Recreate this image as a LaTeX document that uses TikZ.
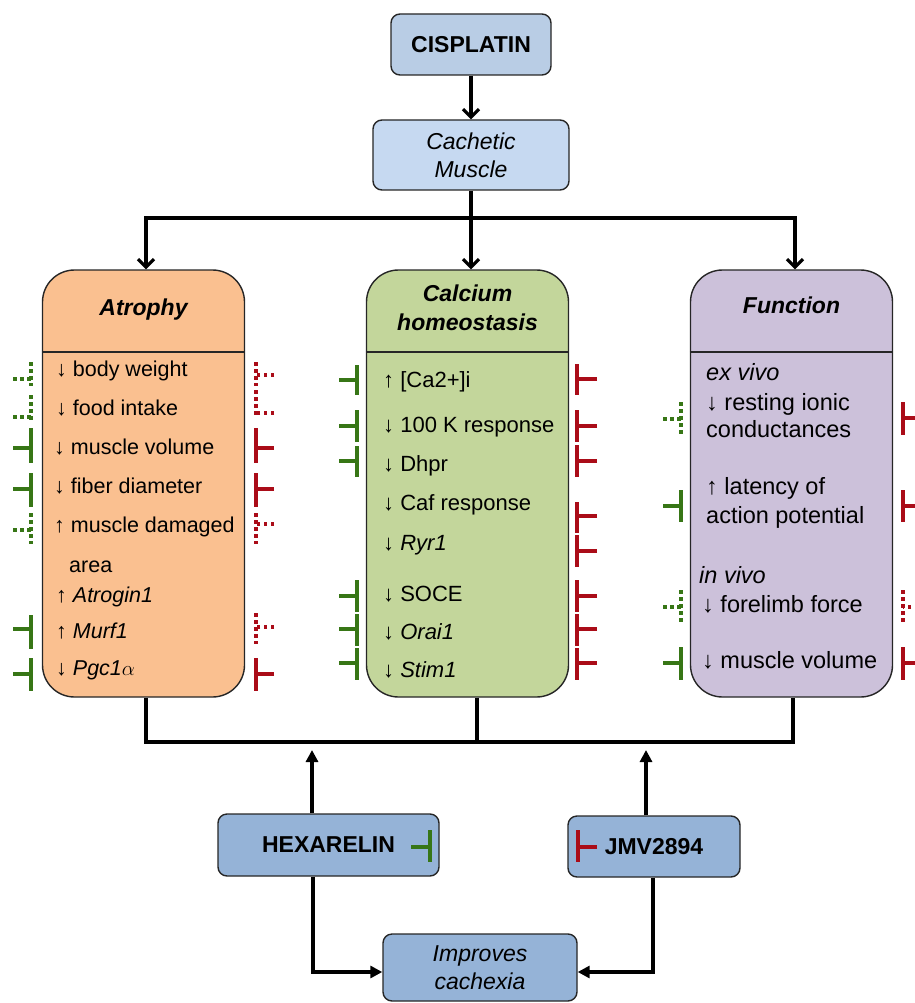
\documentclass[tikz,border=0pt]{standalone}
\usepackage{fontspec}
\setmainfont{Liberation Sans}
\usetikzlibrary{arrows.meta,calc}
\definecolor{cisb}{HTML}{B9CDE5}
\definecolor{cachb}{HTML}{C6D9F1}
\definecolor{drugb}{HTML}{95B3D7}
\definecolor{atrb}{HTML}{FAC090}
\definecolor{calb}{HTML}{C3D69B}
\definecolor{funb}{HTML}{CCC1DA}
\definecolor{ingrn}{RGB}{55,118,22}
\definecolor{inred}{RGB}{170,12,24}
\definecolor{edgec}{HTML}{262626}
\newcommand\mk[6]{\draw[#1] (#3,#6) -- (#2,#6) (#2,#4) -- (#2,#5);}
\begin{document}
\begin{tikzpicture}[x=1pt,y=-1pt,
 box/.style={draw=edgec,line width=1.4pt,rounded corners=9pt,align=center,inner sep=0pt},
 col/.style={draw=edgec,line width=1.4pt,rounded corners=32pt,minimum width=202pt,minimum height=427pt,inner sep=0pt},
 ttl/.style={font=\fontsize{23}{29}\selectfont\bfseries\itshape,align=center,inner sep=0pt},
 big/.style={font=\fontsize{23}{28}\selectfont\bfseries},
 itl/.style={font=\fontsize{23}{28}\selectfont\itshape},
 txa/.style={anchor=west,inner sep=0pt,font=\fontsize{21.5}{26}\selectfont,text height=15pt,text depth=4pt},
 txc/.style={txa,font=\fontsize{22}{26}\selectfont},
 txf/.style={txa,font=\fontsize{23.5}{28}\selectfont},
 conn/.style={line width=3.2pt},
 arrV/.style={conn,-{Straight Barb[length=8pt,width=16pt]}},
 arrT/.style={conn,-{Triangle[length=12pt,width=12pt]}},
 gsol/.style={draw=ingrn,line width=3.5pt},
 gdot/.style={gsol,dash pattern=on 3.5pt off 3.5pt},
 rsol/.style={draw=inred,line width=3.5pt},
 rdot/.style={rsol,dash pattern=on 3.5pt off 3.5pt}]
\useasboundingbox (0,0) rectangle (914,1003);

% top boxes
\node[box,fill=cisb,minimum width=160pt,minimum height=61pt,big] (cis) at (471,44.5) {CISPLATIN};
\node[box,fill=cachb,minimum width=196pt,minimum height=70pt,itl] (cach) at (471,155) {Cachetic\\Muscle};

% column boxes
\node[col,fill=atrb] (atr) at (143.5,483.5) {};
\node[col,fill=calb] (cal) at (467.5,483.5) {};
\node[col,fill=funb] (fun) at (791.5,483.5) {};
\draw[draw=edgec,line width=1.4pt] (atr.west |- 0,352) -- (atr.east |- 0,352);
\draw[draw=edgec,line width=1.4pt] (cal.west |- 0,352) -- (cal.east |- 0,352);
\draw[draw=edgec,line width=1.4pt] (fun.west |- 0,352) -- (fun.east |- 0,352);
\node[ttl] (atrT) at (143.5,310) {Atrophy};
\node[ttl] (calT) at (467.5,308) {Calcium\\homeostasis};
\node[ttl] (funT) at (791.5,305) {Function};

% top connectors
\coordinate (jl) at (146,218);
\coordinate (jc) at (471,218);
\coordinate (jr) at (795,218);
\draw[arrV] (cis.south) -- (cach.north);
\draw[arrV] (cach.south) -- (jc) -| (jl |- atr.north);
\draw[arrV] (jc) -| (jr |- fun.north);
\draw[arrV] (jc) -- (jc |- cal.north);

% atrophy texts
\node[txa] (a1) at (56,371) {↓ body weight};
\node[txa] (a2) at (56,410) {↓ food intake};
\node[txa] (a3) at (54,449) {↓ muscle volume};
\node[txa] (a4) at (54,488) {↓ fiber diameter};
\node[txa] (a5) at (54,527) {↑ muscle damaged};
\node[txa] (a6) at (69,567) {area};
\node[txa] (a7) at (56,597) {↑ \itshape Atrogin1};
\node[txa] (a8) at (56,633) {↑ \itshape Murf1};
\node[txa] (a9) at (56,670) {↓ \itshape Pgc1$\alpha$};

% calcium texts
\node[txc] (c1) at (383,382) {↑ [Ca2+]i};
\node[txc] (c2) at (383,427) {↓ 100 K response};
\node[txc] (c3) at (383,466) {↓ Dhpr};
\node[txc] (c4) at (383,505) {↓ Caf response};
\node[txc] (c5) at (383,545) {↓ \itshape Ryr1};
\node[txc] (c6) at (383,596) {↓ SOCE};
\node[txc] (c7) at (383,634) {↓ \itshape Orai1};
\node[txc] (c8) at (383,672) {↓ \itshape Stim1};

% function texts
\node[txf] (f1) at (706,375) {\itshape ex vivo};
\node[txf] (f2) at (706,405) {↓ resting ionic};
\node[txf] (f3) at (706,432) {conductances};
\node[txf] (f4) at (706,489) {↑ latency of};
\node[txf] (f5) at (706,518) {action potential};
\node[txf] (f6) at (699,578) {\itshape in vivo};
\node[txf] (f7) at (702,607) {↓ forelimb force};
\node[txf] (f8) at (702,663) {↓ muscle volume};

% atrophy markers
\mk{gdot}{31}{13}{362}{386}{379}
\mk{gdot}{31}{13}{395}{423}{417}
\mk{gsol}{31}{13}{428}{463}{448}
\mk{gsol}{31}{13}{473}{507}{489}
\mk{gdot}{31}{13}{513}{544}{530}
\mk{gsol}{31}{13}{615}{649}{629}
\mk{gsol}{31}{13}{658}{691}{674}
\mk{rdot}{256}{274}{362}{386}{375}
\mk{rdot}{256}{274}{390}{418}{413}
\mk{rsol}{256}{274}{428}{463}{448}
\mk{rsol}{256}{274}{473}{507}{489}
\mk{rdot}{256}{274}{513}{544}{524}
\mk{rdot}{256}{274}{613}{644}{627}
\mk{rsol}{256}{274}{658}{691}{674}

% calcium markers
\mk{gsol}{357}{339}{365}{395}{380}
\mk{gsol}{357}{339}{410}{442}{426}
\mk{gsol}{357}{339}{446}{477}{461}
\mk{gsol}{357}{339}{580}{612}{596}
\mk{gsol}{357}{339}{614}{646}{629}
\mk{gsol}{357}{339}{648}{680}{663}
\mk{rsol}{577}{597}{364}{395}{379}
\mk{rsol}{577}{597}{410}{442}{426}
\mk{rsol}{577}{597}{445}{477}{461}
\mk{rsol}{577}{597}{502}{533}{516}
\mk{rsol}{577}{597}{535}{567}{551}
\mk{rsol}{577}{597}{580}{612}{596}
\mk{rsol}{577}{597}{614}{646}{629}
\mk{rsol}{577}{597}{648}{680}{663}

% function markers
\mk{gdot}{681}{663}{402}{436}{419}
\mk{gsol}{681}{663}{490}{522}{506}
\mk{gdot}{681}{663}{590}{624}{607}
\mk{gsol}{681}{663}{647}{680}{663}
\mk{rsol}{903}{918}{402}{435}{418}
\mk{rsol}{903}{918}{490}{522}{506}
\mk{rdot}{903}{918}{590}{624}{607}
\mk{rsol}{903}{918}{647}{680}{663}

% bottom connectors
\coordinate (bl) at (146,742);
\coordinate (bc) at (477,742);
\coordinate (br) at (793,742);
\draw[conn] (atr.south -| bl) -- (bl) -- (br) -- (fun.south -| br);
\draw[conn] (cal.south -| bc) -- (bc);

% drug boxes
\node[box,fill=drugb,minimum width=221pt,minimum height=62pt,big] (hex) at (328.5,845) {HEXARELIN};
\node[box,fill=drugb,minimum width=172pt,minimum height=61pt,big] (jmv) at (654,846.5) {JMV2894};
\node[box,fill=drugb,minimum width=194pt,minimum height=67pt,itl] (imp) at (480,967.5) {Improves\\cachexia};
\mk{gsol}{430}{411}{830}{862}{847}
\mk{rsol}{578}{597}{830}{862}{847}

\coordinate (hu) at (312,750);
\coordinate (ju) at (646,750);
\coordinate (hd) at (313,972);
\coordinate (jd) at (653,972);
\draw[arrT] (hex.north -| hu) -- (hu);
\draw[arrT] (jmv.north -| ju) -- (ju);
\draw[arrT] (hex.south -| hd) -- (hd) -- (imp.west |- hd);
\draw[arrT] (jmv.south -| jd) -- (jd) -- (imp.east |- jd);
\end{tikzpicture}
\end{document}
